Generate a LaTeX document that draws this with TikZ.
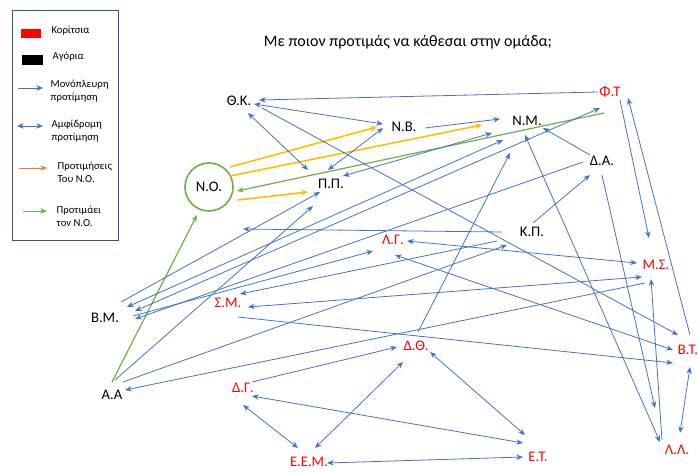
\documentclass[tikz,border=0pt]{standalone}
\usepackage{fontspec}
\setmainfont{Carlito}
\usetikzlibrary{arrows.meta,positioning,calc}
\definecolor{linkblue}{HTML}{4472C4}
\definecolor{prefyellow}{HTML}{FFC000}
\definecolor{prefgreen}{HTML}{70AD47}
\definecolor{legorange}{HTML}{ED7D31}
\definecolor{girlred}{HTML}{FF0000}
\definecolor{framegray}{HTML}{2F5597}

\begin{document}
\begin{tikzpicture}[
    x=0.75pt, y=-0.75pt,
    font=\fontsize{11}{13}\selectfont,
    kid/.style={inner sep=2pt},
    boy/.style={kid, text=black},
    girl/.style={kid, text=girlred},
    oneway/.style={-{Stealth[length=5pt,width=4pt]}, linkblue, semithick},
    twoway/.style={{Stealth[length=5pt,width=4pt]}-{Stealth[length=5pt,width=4pt]}, linkblue, semithick},
    nochoice/.style={-{Stealth[length=5pt,width=4.5pt]}, prefyellow, line width=1.2pt},
    tochoice/.style={-{Stealth[length=5pt,width=4pt]}, prefgreen, line width=0.9pt},
    legtext/.style={anchor=west, align=left, font=\fontsize{8}{9.5}\selectfont}
]
\useasboundingbox (0,0) rectangle (699,471);

% ----------------------------------------------------------
% LEGEND
% ----------------------------------------------------------

\node[draw=framegray, minimum width=106*0.75pt, minimum height=230*0.75pt,
      inner sep=0pt] (legend) at (65,125) {};
\node[fill=girlred, minimum width=20*0.75pt, minimum height=9*0.75pt, inner sep=0pt] (redbox) at (31,33) {};
\node[legtext] (girls) at (47,31) {Κορίτσια};
\node[fill=black, minimum width=21*0.75pt, minimum height=10*0.75pt, inner sep=0pt] (blackbox) at (32,60) {};
\node[legtext] (boys) at (48,57) {Αγόρια};
\coordinate (oa) at (18,88);
\coordinate (ob) at (43,88);
\draw[oneway, thin] (oa) -- (ob);
\node[legtext] (onelab) at (46,91) {Μονόπλευρη\\προτίμηση};
\coordinate (ta) at (17,126);
\coordinate (tb) at (43,126);
\draw[twoway, thin] (ta) -- (tb);
\node[legtext] (twolab) at (47,131) {Αμφίδρομη\\προτίμηση};
\coordinate (ya) at (19,168);
\coordinate (yb) at (47,168);
\draw[-{Stealth[length=5pt,width=4pt]}, legorange, thin] (ya) -- (yb);
\node[legtext] (noprefs) at (53,172) {Προτιμήσεις\\Του Ν.Ο.};
\coordinate (ga) at (23,211);
\coordinate (gb) at (47,211);
\draw[-{Stealth[length=5pt,width=4pt]}, prefgreen, thin] (ga) -- (gb);
\node[legtext] (noprefd) at (52,216) {Προτιμάει\\τον Ν.Ο.};

\node (title) at (408,42) {\fontsize{12}{14}\selectfont Με ποιον προτιμάς να κάθεσαι στην ομάδα;};

% ----------------------------------------------------------
% NODES
% ----------------------------------------------------------

\node[boy] (tk) at (239,101) {Θ.Κ.};
\node[boy] (nb) at (404,127) {Ν.Β.};
\node[boy] (nm) at (527,121) {Ν.Μ.};
\node[girl] (ft) at (610,92) {Φ.Τ};
\node[boy] (da) at (602,161) {Δ.Α.};
\node[boy, draw=prefgreen, line width=1.2pt, circle, minimum size=48*0.75pt] (no) at (209,187) {Ν.Ο.};
\node[boy] (pp) at (331,184) {Π.Π.};
\node[boy] (kp) at (532,232) {Κ.Π.};
\node[girl] (lg) at (393,240) {Λ.Γ.};
\node[girl] (ms) at (656,265) {Μ.Σ.};
\node[boy] (bm) at (105,318) {Β.Μ.};
\node[girl] (sm) at (228,303) {Σ.Μ.};
\node[girl] (bt) at (688,350) {Β.Τ.};
\node[girl] (dt) at (416,346) {Δ.Θ.};
\node[boy] (aa) at (112,395) {Α.Α};
\node[girl] (dg) at (243,388) {Δ.Γ.};
\node[girl] (ll) at (677,450) {Λ.Λ.};
\node[girl] (eem) at (309,462) {Ε.Ε.Μ.};
\node[girl] (et) at (538,457) {Ε.Τ.};

% ----------------------------------------------------------
% ARROWS
% ----------------------------------------------------------

% choices of N.O. and choices for N.O.
\draw[nochoice] ($(no)+(21,-20)$) -- ($(nb)+(-27,0)$);
\draw[nochoice] ($(no)+(21,-11)$) -- ($(nm)+(-45,4)$);
\draw[nochoice] ($(no)+(29,13)$) -- ($(pp)+(-23,8)$);
\draw[tochoice] ($(ft)+(-6,21)$) -- ($(no)+(28,4)$);
\draw[tochoice] ($(aa)+(0,-13)$) -- ($(no)+(-12,28)$);

% upper group
\draw[oneway] ($(ft)+(-12,0)$) -- ($(tk)+(20,-1)$);
\draw[twoway] ($(tk)+(15,3)$) -- ($(nb)+(-21,-3)$);
\draw[twoway] ($(tk)+(9,12)$) -- ($(pp)+(-23,-14)$);
\draw[twoway] ($(nb)+(-21,1)$) -- ($(pp)+(-3,-14)$);
\draw[oneway] ($(nb)+(21,1)$) -- ($(nm)+(-27,-2)$);
\draw[twoway] ($(pp)+(12,-8)$) -- ($(nm)+(-35,12)$);
\draw[oneway] ($(tk)+(23,7)$) -- ($(bt)+(-10,-15)$);
\draw[oneway] ($(da)+(-12,-6)$) -- ($(nm)+(16,7)$);
\draw[oneway] ($(dt)+(2,-14)$) -- ($(nm)+(-17,32)$);
\draw[twoway] ($(nm)+(-2,14)$) -- ($(ll)+(-17,-8)$);
\draw[oneway] ($(da)+(0,14)$) -- ($(ll)+(-22,-42)$);
\draw[oneway] ($(kp)+(1,-9)$) -- ($(da)+(-12,14)$);
\draw[oneway] ($(kp)+(-30,0)$) -- ($(no)+(34,42)$);
\draw[oneway] ($(kp)+(-35,9)$) -- ($(sm)+(12,-9)$);

% right side
\draw[oneway] ($(ll)+(-15,-10)$) -- ($(ms)+(-5,14)$);
\draw[twoway] ($(bt)+(2,17)$) -- ($(ll)+(3,-17)$);
\draw[oneway] ($(bt)+(2,-15)$) -- ($(ft)+(18,6)$);
\draw[oneway] ($(ft)+(10,8)$) -- ($(ms)+(-7,-27)$);
\draw[twoway] ($(lg)+(14,1)$) -- ($(ms)+(-19,-2)$);
\draw[twoway] ($(sm)+(20,4)$) -- ($(ms)+(-14,12)$);
\draw[oneway] ($(ms)+(-11,18)$) -- ($(aa)+(13,-5)$);
\draw[twoway] ($(lg)+(2,15)$) -- ($(bt)+(-15,0)$);
\draw[oneway] ($(sm)+(10,14)$) -- ($(bt)+(-15,13)$);

% left side
\draw[oneway] ($(aa)+(11,-13)$) -- ($(kp)+(-25,13)$);
\draw[oneway] ($(aa)+(3,-15)$) -- ($(pp)+(-18,22)$);
\draw[oneway] ($(bm)+(28,-2)$) -- ($(lg)+(-20,11)$);
\draw[oneway] ($(bm)+(16,-16)$) -- ($(pp)+(-11,8)$);
\draw[oneway] ($(da)+(-19,1)$) -- ($(bm)+(30,1)$);
\draw[twoway] ($(bm)+(22,-11)$) -- ($(nm)+(-24,19)$);
\draw[twoway] ($(bm)+(30,-7)$) -- ($(ft)+(-10,16)$);

% lower group
\draw[oneway] ($(dg)+(9,-6)$) -- ($(dt)+(-19,1)$);
\draw[twoway] ($(dg)+(0,17)$) -- ($(eem)+(-11,-14)$);
\draw[twoway] ($(dg)+(9,8)$) -- ($(et)+(-15,-14)$);
\draw[twoway] ($(dt)+(-13,16)$) -- ($(eem)+(6,-14)$);
\draw[twoway] ($(dt)+(14,6)$) -- ($(et)+(-13,-22)$);
\draw[twoway] ($(eem)+(18,1)$) -- ($(et)+(-15,0)$);

\end{tikzpicture}
\end{document}
